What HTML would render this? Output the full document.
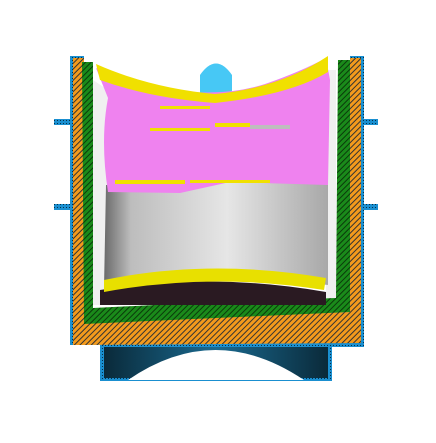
<!DOCTYPE html>
<html><head><meta charset="utf-8"><style>html,body{margin:0;padding:0;background:#fff;width:436px;height:443px;overflow:hidden}</style></head>
<body>
<svg width="436" height="443" viewBox="0 0 436 443" xmlns="http://www.w3.org/2000/svg">
<defs>
<pattern id="ho" width="4" height="4" patternUnits="userSpaceOnUse" patternTransform="rotate(45)"><rect width="4" height="4" fill="#f39a1c"/><rect width="1" height="4" fill="#333"/></pattern>
<pattern id="hg" width="4" height="4" patternUnits="userSpaceOnUse" patternTransform="rotate(45)"><rect width="4" height="4" fill="#1a8a1a"/><rect width="1" height="4" fill="#0a3a0a"/></pattern>
<pattern id="hb" width="3" height="3" patternUnits="userSpaceOnUse"><rect width="3" height="3" fill="#1a8fd0"/><rect width="1" height="1" fill="#04304a"/></pattern>
<linearGradient id="gray" x1="0" x2="1"><stop offset="0" stop-color="#6a6a6a"/><stop offset="0.12" stop-color="#bdbdbd"/><stop offset="0.55" stop-color="#e6e6e6"/><stop offset="1" stop-color="#a8a8a8"/></linearGradient>
<linearGradient id="base" x1="0" x2="1"><stop offset="0" stop-color="#0a2a3a"/><stop offset="0.5" stop-color="#1a6a90"/><stop offset="1" stop-color="#0a2a3a"/></linearGradient>
</defs>
<g>
<rect x="54" y="119" width="22" height="6" fill="url(#hb)"/><rect x="356" y="119" width="22" height="6" fill="url(#hb)"/>
<rect x="54" y="204" width="22" height="6" fill="url(#hb)"/><rect x="356" y="204" width="22" height="6" fill="url(#hb)"/>
</g>
<g>
<rect x="100" y="343" width="232" height="38" fill="url(#hb)"/>
<rect x="104" y="346" width="224" height="32" fill="url(#base)"/>
<path d="M128 380 Q215 320 304 380 Z" fill="#fff"/>
</g>
<path d="M70 56 L84 56 L84 322 L350 312 L350 56 L364 56 L364 347 L100 347 L100 345 L70 345 Z" fill="url(#hb)"/>
<path d="M73 58 L84 58 L84 322 L350 312 L350 58 L361 58 L361 343 L84 345 L73 345 Z" fill="url(#ho)"/>
<path d="M82 62 L93 62 L93 308 L336 296 L338 60 L350 60 L350 312 L84 324 Z" fill="url(#hg)"/>
<path d="M93 80 L108 90 L108 305 L336 298 L336 70 L326 70 L326 305 L93 305 Z" fill="#f0f0f0"/>
<path d="M200 100 L200 75 Q216 52 232 75 L232 100 Z" fill="#47c8f5"/>
<g>
<path d="M100 290 Q212 272 326 292 L326 305 L100 305 Z" fill="#2a1a22"/>
<path d="M106 185 Q200 180 328 178 L328 285 Q212 270 104 288 Z" fill="url(#gray)"/>
<path d="M96 68 Q120 80 150 86 Q215 100 265 84 Q300 72 326 58 L330 80 L328 185 L230 182 L180 193 L108 192 Q100 140 108 98 Z" fill="#ef82ef"/>
<path d="M96 64 Q150 88 215 94 Q280 88 328 56 L328 72 Q290 95 215 103 Q150 98 100 80 Z" fill="#f0e000"/>
<path d="M104 280 Q210 258 326 278 L324 290 Q212 272 104 292 Z" fill="#e8e000"/>
<rect x="115" y="180" width="70" height="4" fill="#f0e000"/>
<rect x="190" y="180" width="80" height="3" fill="#f0e000"/>
<rect x="150" y="128" width="60" height="3" fill="#f0e000"/>
<rect x="215" y="123" width="35" height="4" fill="#f0e000"/>
<rect x="250" y="125" width="40" height="4" fill="#bdbdbd"/>
<rect x="160" y="106" width="50" height="3" fill="#f0e000"/>
</g>
</svg>
</body></html>
